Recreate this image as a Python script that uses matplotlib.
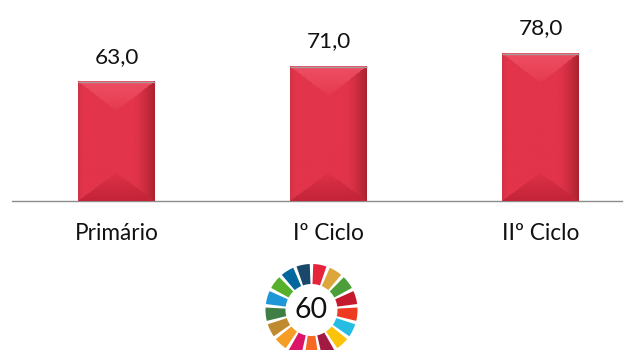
import numpy as np
import matplotlib
matplotlib.use("Agg")
import matplotlib.pyplot as plt
from matplotlib.patches import Wedge

categories = ["Primário", "Iº Ciclo", "IIº Ciclo"]
values = [63.0, 71.0, 78.0]
value_labels = ["63,0", "71,0", "78,0"]
wheel_label = "60"
wheel_colors = ["#E5243B", "#DDA63A", "#4C9F38", "#C5192D", "#EE3A21", "#26BDE2",
                "#FCC30B", "#A21942", "#F56925", "#DD1367", "#F59D24", "#BF8B2E",
                "#3F7E44", "#1E97D9", "#56B02B", "#00689D", "#19486A"]

W, H = 632, 350
plt.rcParams["font.family"] = ["Lato", "DejaVu Sans"]
fig = plt.figure(figsize=(W / 100, H / 100), dpi=100, facecolor="white")

ax = fig.add_axes([12 / W, 1 - 201 / H, 610 / W, 201 / H])
ax.set_xlim(-0.493, 2.384)
ax.set_ylim(0, 201 / 1.889)
ax.patch.set_alpha(0)
for s in ["top", "left", "right"]:
    ax.spines[s].set_visible(False)
ax.spines["bottom"].set_color("#8c8c8c")
ax.spines["bottom"].set_linewidth(1.0)
ax.set_yticks([])
ax.set_xticks(range(len(categories)), categories, fontsize=16.3, color="#111111")
ax.tick_params(axis="x", length=0, pad=15.5)

bars = ax.bar(range(len(categories)), values, width=0.36, color="#E2344A",
              edgecolor="none", zorder=2)


def bevel(nx=76, ny=120, top_depth=30, bot_depth=28):
    """Bevelled red face: soft top and bottom wedges over a horizontal shade."""
    u = (np.arange(nx) + 0.5) / nx
    yy, uu = np.meshgrid(np.arange(ny) + 0.5, u, indexing="ij")
    base = np.array([226, 52, 74], float)
    img = np.ones((ny, nx, 3)) * base
    # darker rim towards the right and, a little, the left
    rim_r = np.clip((uu - 0.72) / 0.28, 0, 1)[..., None] ** 1.5
    rim_l = np.clip((0.06 - uu) / 0.06, 0, 1)[..., None]
    img = img * (1 - rim_r) + np.array([168, 34, 48.0]) * rim_r
    img = img * (1 - 0.5 * rim_l) + np.array([190, 50, 66.0]) * 0.5 * rim_l
    # top wedge, lighter
    dist = np.minimum(uu, 1 - uu) / 0.5
    top_mask = (yy / top_depth) < dist
    f = np.where(top_mask, np.clip(1 - yy / top_depth, 0, 1), 0)[..., None] ** 0.6
    img = img * (1 - f) + np.array([238, 78, 98.0]) * f
    # bottom wedge, darker
    by = (ny - yy) / bot_depth
    bot_mask = by < dist
    g = np.where(bot_mask, np.clip(1 - by, 0, 1), 0)[..., None] ** 0.7
    img = img * (1 - g) + np.array([196, 36, 56.0]) * g
    return np.clip(img / 255, 0, 1)


for b, lab in zip(bars, value_labels):
    x0, w, h = b.get_x(), b.get_width(), b.get_height()
    px_h = int(round(h * 1.889))
    ax.imshow(bevel(ny=px_h), extent=[x0, x0 + w, 0, h], aspect="auto",
              interpolation="bilinear", zorder=3)
    ax.plot([x0, x0 + w], [h, h], color="#a89a9a", lw=1.0, zorder=4,
            solid_capstyle="butt")
    ax.text(x0 + w / 2, h + 8.1, lab, ha="center", va="bottom", fontsize=16.2,
            color="#111111")
ax.set_xlim(-0.493, 2.384)
ax.set_ylim(0, 201 / 1.889)

wax = fig.add_axes([0, 0, 1, 1])
wax.set_xlim(0, W)
wax.set_ylim(H, 0)
wax.axis("off")
wax.patch.set_alpha(0)
cx, cy = 311.5, 310
n = len(wheel_colors)
step = 360 / n
gap = 2.2
for i, c in enumerate(wheel_colors):
    a0 = -90 + i * step + gap
    a1 = -90 + (i + 1) * step - gap
    wax.add_patch(Wedge((cx, cy), 46, a0, a1, width=20, facecolor=c,
                        edgecolor="none"))
wax.text(cx, cy + 0.5, wheel_label, ha="center", va="center", fontsize=20.5,
         color="#111111")

fig.savefig("out.png", dpi=100, facecolor="white")
